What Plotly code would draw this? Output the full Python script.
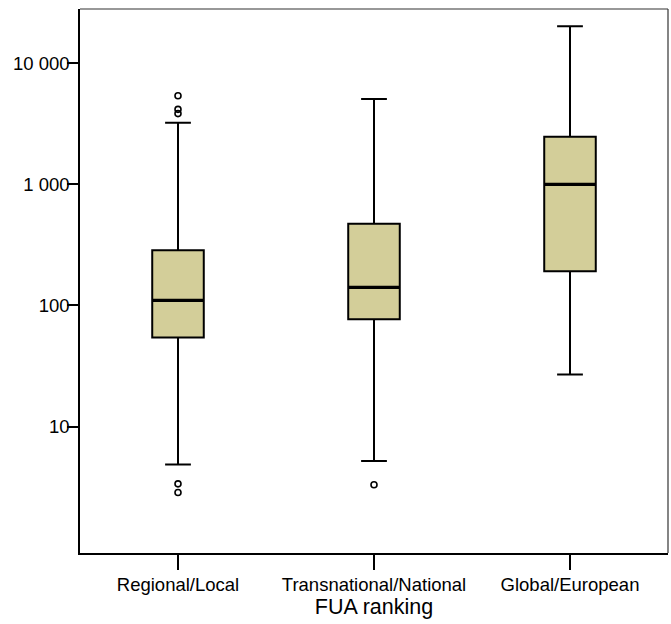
import plotly.graph_objects as go

categories = ["Regional/Local", "Transnational/National", "Global/European"]
q1 = [54.4, 77.0, 192.0]
median = [110.0, 141.0, 1000.0]
q3 = [286.0, 472.0, 2473.0]
lowerfence = [4.85, 5.2, 26.9]
upperfence = [3228.0, 5070.0, 20300.0]
outlier_cat = [0, 0, 0, 0, 0, 1]
outlier_val = [5395.0, 4169.0, 3846.0, 3.36, 2.85, 3.3]
ytick_vals = [10, 100, 1000, 10000]
ytick_text = ["10", "100", "1 000", "10 000"]

box_w = 0.263
fill = "#D3CE99"
font = "Liberation Sans, Arial, sans-serif"

xs = list(range(len(categories)))
fig = go.Figure()
fig.add_trace(go.Box(
    x=xs, q1=q1, median=median, q3=q3,
    lowerfence=lowerfence, upperfence=upperfence,
    width=box_w, whiskerwidth=0.5,
    fillcolor=fill, line=dict(color="black", width=2),
    boxpoints=False, hoverinfo="skip", showlegend=False,
))
for i, m in enumerate(median):
    fig.add_trace(go.Scatter(
        x=[xs[i] - box_w / 2, xs[i] + box_w / 2], y=[m, m],
        mode="lines", line=dict(color="black", width=3.2),
        hoverinfo="skip", showlegend=False,
    ))
fig.add_trace(go.Scatter(
    x=[xs[c] for c in outlier_cat], y=outlier_val, mode="markers",
    marker=dict(symbol="circle-open", size=6, color="black", line=dict(width=1.6)),
    hoverinfo="skip", showlegend=False,
))

fig.update_layout(
    width=671, height=624,
    margin=dict(l=80, r=3, t=9, b=71),
    paper_bgcolor="white", plot_bgcolor="white",
    font=dict(family=font, color="black"),
    xaxis=dict(
        range=[-0.5, 2.5], tickvals=xs, ticktext=categories,
        showgrid=False, zeroline=False,
        showline=True, linecolor="black", linewidth=2,
        ticks="outside", ticklen=15, tickwidth=1.5, tickcolor="black",
        tickfont=dict(size=18.5), ticklabelstandoff=-1,
        title=dict(text="FUA ranking", font=dict(size=21.5), standoff=2),
    ),
    yaxis=dict(
        type="log", range=[-0.045, 4.449],
        tickvals=ytick_vals, ticktext=ytick_text,
        showgrid=False, zeroline=False,
        showline=True, linecolor="black", linewidth=1.5,
        ticks="outside", ticklen=11, tickwidth=1.5, tickcolor="black",
        tickfont=dict(size=18.5), ticklabelstandoff=-6,
    ),
    shapes=[
        dict(type="line", xref="paper", yref="paper", x0=0, x1=1, y0=1, y1=1,
             line=dict(color="#333333", width=1.2)),
        dict(type="line", xref="paper", yref="paper", x0=1, x1=1, y0=0, y1=1,
             line=dict(color="#333333", width=1.2)),
    ],
)
fig.write_html("out.html")
